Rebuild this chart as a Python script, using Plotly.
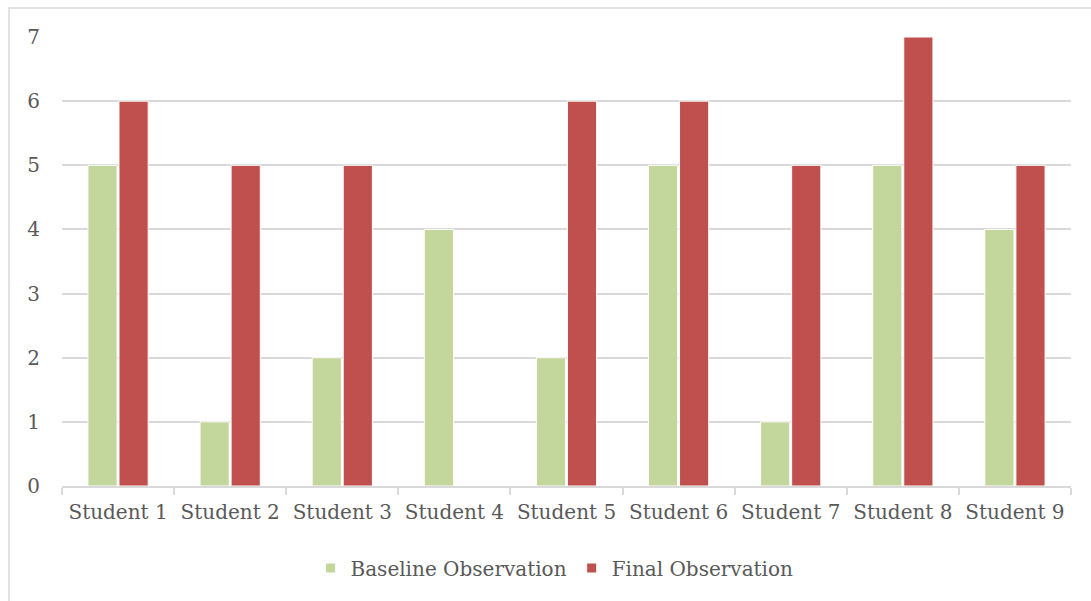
import plotly.graph_objects as go

students = ["Student 1", "Student 2", "Student 3", "Student 4", "Student 5",
            "Student 6", "Student 7", "Student 8", "Student 9"]
baseline = [5, 1, 2, 4, 2, 5, 1, 5, 4]
final = [6, 5, 5, 0, 6, 6, 5, 7, 5]
y_ticks = [0, 1, 2, 3, 4, 5, 6, 7]

GREEN = "#c3d69b"
RED = "#c0504d"
GRID = "#d9d9d9"
TEXT = "#595959"
FONT = "DejaVu Serif"
FS = 20

W, H = 1091, 601
L, R, T, B = 62, 20, 37, 115
pw, ph = W - L - R, H - T - B

fig = go.Figure()
fig.add_trace(go.Bar(x=students, y=baseline, name="Baseline Observation",
                     marker=dict(color=GREEN, line=dict(color="white", width=1)),
                     showlegend=False))
fig.add_trace(go.Bar(x=students, y=final, name="Final Observation",
                     marker=dict(color=RED, line=dict(color="white", width=1)),
                     showlegend=False))

# small square legend swatches
for name, col in [("Baseline Observation", GREEN), ("Final Observation", RED)]:
    fig.add_trace(go.Scatter(x=[None], y=[None], mode="markers", name=name,
                             marker=dict(symbol="square", size=9, color=col)))

# outer chart frame
fig.add_shape(type="rect", xref="paper", yref="paper",
              x0=(9 - L) / pw, x1=(W + 20 - L) / pw,
              y0=-(H + 20 - T - ph) / ph, y1=(ph + T - 8) / ph,
              line=dict(color=GRID, width=1.5), fillcolor="rgba(0,0,0,0)",
              layer="below")

fig.update_layout(
    width=W, height=H,
    margin=dict(l=L, r=R, t=T, b=B),
    paper_bgcolor="white", plot_bgcolor="white",
    barmode="group", bargap=0.446, bargroupgap=0.06,
    font=dict(family=FONT, size=FS, color=TEXT),
    legend=dict(orientation="h", x=0.5 - 12 / pw, xanchor="center",
                y=-(568 - T - ph) / ph, yanchor="middle",
                font=dict(family=FONT, size=FS, color=TEXT),
                itemwidth=30, tracegroupgap=0),
    xaxis=dict(showline=True, linecolor=GRID, linewidth=1.5,
               ticks="outside", tickson="boundaries", ticklen=7,
               tickcolor=GRID, tickwidth=1.5, showgrid=False,
               ticklabelstandoff=7,
               tickfont=dict(family=FONT, size=FS, color=TEXT)),
    yaxis=dict(range=[0, 7], tickvals=y_ticks, showgrid=True,
               gridcolor=GRID, gridwidth=1.5, zeroline=False,
               showline=False, ticks="", ticklabelstandoff=21,
               tickfont=dict(family=FONT, size=FS, color=TEXT)),
)

fig.write_html("out.html")
